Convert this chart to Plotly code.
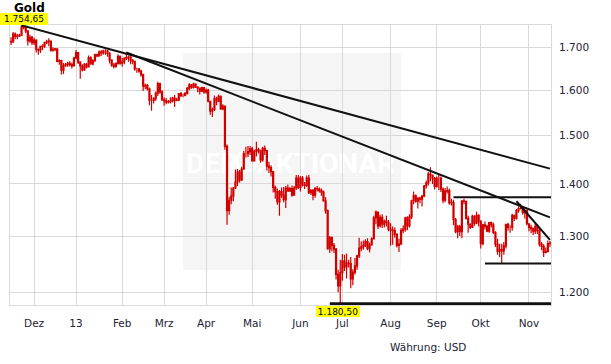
import numpy as np
import pandas as pd
import plotly.graph_objects as go

# ---------------- data ----------------
holidays = ["2012-12-25", "2013-01-01", "2013-03-29"]
dates = [d for d in pd.bdate_range("2012-11-16", "2013-11-15")
         if d.strftime("%Y-%m-%d") not in holidays]

open_prices = [
    # Nov 2012
    1715, 1714, 1733, 1727, 1728, 1730, 1751, 1749, 1741, 1716, 1725,
    # Dec
    1712, 1718, 1696, 1694, 1703, 1704, 1712, 1714, 1716, 1694, 1696, 1697, 1667, 1669, 1646, 1657, 1659, 1662, 1659, 1656,
    # Jan 2013
    1675, 1688, 1665, 1656, 1647, 1660, 1654, 1676, 1661, 1669, 1683, 1680, 1689, 1687, 1692, 1692, 1686, 1670, 1658, 1655, 1662, 1679,
    # Feb
    1663, 1666, 1674, 1676, 1677, 1670, 1667, 1649, 1649, 1644, 1636, 1609, 1611, 1603, 1577, 1577, 1581, 1593, 1615, 1596,
    # Mar
    1578, 1576, 1573, 1574, 1576, 1582, 1577, 1578, 1592, 1588, 1588, 1592, 1604, 1612, 1607, 1614, 1607, 1605, 1598, 1606,
    # Apr
    1596, 1600, 1575, 1553, 1557, 1581, 1575, 1586, 1558, 1564, 1477, 1348, 1368, 1376, 1392, 1404, 1424, 1408, 1430, 1462, 1462, 1466,
    # May
    1472, 1447, 1467, 1470, 1468, 1449, 1473, 1468, 1436, 1433, 1425, 1393, 1385, 1365, 1385, 1378, 1369, 1392, 1386, 1391, 1378, 1392, 1412,
    # Jun
    1393, 1412, 1398, 1397, 1412, 1383, 1387, 1378, 1391, 1390, 1387, 1384, 1367, 1348, 1277, 1297, 1283, 1276, 1231, 1211,
    # Jul
    1234, 1255, 1244, 1251, 1250, 1223, 1235, 1246, 1264, 1278, 1280, 1283, 1290, 1277, 1284, 1295, 1334, 1345, 1319, 1335, 1322, 1328, 1325,
    # Aug
    1313, 1311, 1310, 1303, 1283, 1285, 1310, 1313, 1334, 1319, 1336, 1367, 1377, 1366, 1372, 1370, 1376, 1396, 1402, 1420, 1418, 1411,
    # Sep
    1395, 1412, 1412, 1390, 1368, 1386, 1387, 1363, 1364, 1331, 1308, 1318, 1308, 1367, 1366, 1333, 1322, 1316, 1337, 1324, 1339,
    # Oct
    1327, 1286, 1321, 1318, 1309, 1325, 1321, 1307, 1285, 1272, 1275, 1273, 1282, 1322, 1316, 1316, 1339, 1333, 1348, 1352, 1353, 1344, 1348,
    # Nov
    1323, 1316, 1314, 1309, 1318, 1310, 1285, 1281, 1270, 1272, 1286,
]

high_prices = [
    1725, 1738, 1737, 1733, 1734, 1754.65, 1754, 1749, 1742, 1731, 1728,
    1724, 1720, 1698, 1704, 1708, 1714, 1719, 1723, 1717, 1701, 1699, 1698, 1672, 1671, 1663, 1663, 1666, 1667, 1664, 1678,
    1694, 1689, 1667, 1660, 1663, 1663, 1681, 1679, 1672, 1685, 1685, 1693, 1694, 1695, 1696, 1694, 1689, 1672, 1663, 1664, 1684, 1681,
    1675, 1677, 1688, 1681, 1684, 1672, 1668, 1652, 1651, 1647, 1638, 1615, 1614, 1606, 1589, 1584, 1597, 1619, 1617, 1600,
    1584, 1582, 1578, 1584, 1585, 1589, 1583, 1593, 1596, 1592, 1596, 1607, 1616, 1614, 1617, 1616, 1609, 1605, 1608, 1606,
    1604, 1603, 1576, 1561, 1588, 1585, 1590, 1588, 1568, 1565, 1481, 1375, 1393, 1394, 1429, 1430, 1428, 1435, 1468, 1476, 1478, 1478,
    1476, 1470, 1487, 1474, 1470, 1476, 1479, 1470, 1445, 1438, 1426, 1397, 1391, 1388, 1393, 1394, 1396, 1399, 1394, 1397, 1396, 1418, 1418,
    1416, 1416, 1404, 1417, 1418, 1390, 1390, 1394, 1396, 1393, 1391, 1387, 1374, 1350, 1300, 1299, 1287, 1278, 1239, 1257,
    1267, 1266, 1268, 1257, 1262, 1240, 1260, 1266, 1297, 1290, 1292, 1294, 1296, 1288, 1298, 1338, 1348, 1346, 1340, 1341, 1331, 1338, 1330,
    1324, 1318, 1316, 1305, 1295, 1315, 1320, 1336, 1337, 1341, 1369, 1385, 1379, 1374, 1375, 1378, 1398, 1407, 1424, 1434, 1419, 1414,
    1415, 1418, 1415, 1393, 1392, 1395, 1391, 1371, 1369, 1334, 1321, 1321, 1368, 1371, 1367, 1338, 1324, 1340, 1339, 1346, 1341,
    1330, 1323, 1327, 1321, 1326, 1327, 1325, 1309, 1295, 1286, 1286, 1289, 1323, 1325, 1320, 1342, 1340, 1351, 1356, 1361, 1353, 1355, 1350,
    1324, 1321, 1316, 1324, 1322, 1314, 1289, 1285, 1279, 1292, 1291,
]

low_prices = [
    1706, 1712, 1720, 1720, 1726, 1730, 1745, 1735, 1705, 1712, 1706,
    1706, 1688, 1683, 1687, 1694, 1699, 1708, 1703, 1690, 1690, 1691, 1665, 1659, 1636, 1637, 1654, 1654, 1655, 1650, 1655,
    1672, 1661, 1626, 1643, 1645, 1650, 1653, 1659, 1658, 1665, 1677, 1678, 1680, 1683, 1683, 1678, 1662, 1654, 1650, 1652, 1659, 1659,
    1654, 1660, 1670, 1666, 1660, 1660, 1645, 1640, 1640, 1631, 1598, 1602, 1599, 1566, 1554, 1570, 1576, 1587, 1592, 1576,
    1565, 1568, 1570, 1570, 1572, 1562, 1575, 1575, 1584, 1584, 1586, 1590, 1600, 1603, 1604, 1605, 1595, 1590, 1596, 1592,
    1592, 1572, 1545, 1540, 1553, 1566, 1573, 1556, 1555, 1470, 1321, 1340, 1360, 1366, 1390, 1396, 1403, 1406, 1429, 1454, 1455, 1459,
    1445, 1446, 1456, 1462, 1443, 1445, 1459, 1427, 1422, 1415, 1383, 1371, 1359, 1338, 1373, 1364, 1353, 1385, 1385, 1375, 1378, 1388, 1390,
    1385, 1395, 1390, 1394, 1380, 1378, 1368, 1373, 1385, 1383, 1377, 1365, 1342, 1275, 1269, 1272, 1269, 1222, 1200, 1180.5,
    1220, 1237, 1224, 1243, 1207, 1212, 1231, 1239, 1260, 1272, 1275, 1280, 1274, 1270, 1282, 1293, 1322, 1313, 1316, 1315, 1316, 1318, 1309,
    1282, 1284, 1297, 1279, 1271, 1284, 1305, 1308, 1311, 1316, 1332, 1360, 1363, 1352, 1362, 1356, 1374, 1391, 1397, 1405, 1400, 1389,
    1393, 1388, 1384, 1362, 1364, 1381, 1359, 1358, 1320, 1305, 1296, 1300, 1296, 1360, 1331, 1306, 1313, 1316, 1319, 1322, 1318,
    1277, 1283, 1312, 1307, 1306, 1316, 1304, 1280, 1266, 1262, 1251, 1266, 1277, 1310, 1306, 1310, 1328, 1331, 1344, 1350, 1340, 1333, 1320,
    1309, 1305, 1302, 1304, 1304, 1281, 1274, 1262, 1268, 1270, 1280,
]

close_prices = [
    1714, 1733, 1727, 1728, 1730, 1751, 1749, 1741, 1716, 1725, 1712,
    1718, 1696, 1694, 1703, 1704, 1712, 1714, 1716, 1694, 1696, 1697, 1667, 1669, 1646, 1657, 1659, 1662, 1659, 1656, 1675,
    1688, 1665, 1656, 1647, 1660, 1654, 1676, 1661, 1669, 1683, 1680, 1689, 1687, 1692, 1692, 1686, 1670, 1658, 1655, 1662, 1679, 1663,
    1666, 1674, 1676, 1677, 1670, 1667, 1649, 1649, 1644, 1636, 1609, 1611, 1603, 1577, 1577, 1581, 1593, 1615, 1596, 1578,
    1576, 1573, 1574, 1576, 1582, 1577, 1578, 1592, 1588, 1588, 1592, 1604, 1612, 1607, 1614, 1607, 1605, 1598, 1606, 1596,
    1600, 1575, 1553, 1557, 1581, 1575, 1586, 1558, 1564, 1477, 1348, 1368, 1376, 1392, 1404, 1424, 1408, 1430, 1462, 1462, 1466, 1472,
    1447, 1467, 1470, 1468, 1449, 1473, 1468, 1436, 1433, 1425, 1393, 1385, 1365, 1385, 1378, 1369, 1392, 1386, 1391, 1378, 1392, 1412, 1393,
    1412, 1398, 1397, 1412, 1383, 1387, 1378, 1391, 1390, 1387, 1384, 1367, 1348, 1277, 1297, 1283, 1276, 1231, 1211, 1234,
    1255, 1244, 1251, 1250, 1223, 1235, 1246, 1264, 1278, 1280, 1283, 1290, 1277, 1284, 1295, 1334, 1345, 1319, 1335, 1322, 1328, 1325, 1313,
    1311, 1310, 1303, 1283, 1285, 1310, 1313, 1334, 1319, 1336, 1367, 1377, 1366, 1372, 1370, 1376, 1396, 1402, 1420, 1418, 1411, 1395,
    1412, 1412, 1390, 1368, 1386, 1387, 1363, 1364, 1331, 1308, 1318, 1308, 1367, 1366, 1333, 1322, 1316, 1337, 1324, 1339, 1327,
    1286, 1321, 1318, 1309, 1325, 1321, 1307, 1285, 1272, 1275, 1273, 1282, 1322, 1316, 1316, 1339, 1333, 1348, 1352, 1353, 1344, 1348, 1323,
    1316, 1314, 1309, 1318, 1310, 1285, 1281, 1270, 1272, 1286, 1287,
]

month_keys = ["2012-12", "2013-01", "2013-02", "2013-03", "2013-04", "2013-05",
              "2013-06", "2013-07", "2013-08", "2013-09", "2013-10", "2013-11"]
month_labels = ["Dez", "13", "Feb", "Mrz", "Apr", "Mai", "Jun", "Jul", "Aug", "Sep", "Okt", "Nov"]

price_ticks = [1200, 1300, 1400, 1500, 1600, 1700]
price_tick_labels = ["1.200", "1.300", "1.400", "1.500", "1.600", "1.700"]
price_range = [1178.5, 1755.5]

trend_start_dates = ["2012-11-23", "2013-02-05", "2013-10-24"]
trend_start_prices = [1754.65, 1688, 1366]
trend_end_date = "2013-11-15"
trend_end_prices = [1431, 1335, 1293]

level_prices = [1374, 1250, 1180.5]
level_start_dates = ["2013-09-12", "2013-10-03", "2013-06-21"]

max_label = "1.754,65"
min_label = "1.180,50"
currency_label = "Währung: USD"
title_text = "Gold"
watermark_words = ["DER", "AKTIONÄR"]

# ---------------- build ----------------
n = len(dates)
assert len(open_prices) == n and len(high_prices) == n and len(low_prices) == n and len(close_prices) == n, \
    (n, len(open_prices), len(high_prices), len(low_prices), len(close_prices))

x = list(range(n))
day_index = {d.strftime("%Y-%m-%d"): i for i, d in enumerate(dates)}
month_of = [d.strftime("%Y-%m") for d in dates]
tick_x = [month_of.index(m) for m in month_keys]

RED = "#d00000"
GRID = "#d9d9d9"
W, H = 611, 364
L, R, T, B = 10, 60, 25, 59
PW, PH = W - L - R, H - T - B


def px(xp):
    return (xp - L) / PW


def py(yp):
    return (H - B - yp) / PH


fig = go.Figure()

fig.add_trace(go.Candlestick(
    x=x, open=open_prices, high=high_prices, low=low_prices, close=close_prices,
    increasing=dict(line=dict(color=RED, width=1.2), fillcolor="#ffffff"),
    decreasing=dict(line=dict(color=RED, width=1.2), fillcolor=RED),
    whiskerwidth=0, showlegend=False, hoverinfo="skip",
))

for sd, sp, ep in zip(trend_start_dates, trend_start_prices, trend_end_prices):
    fig.add_trace(go.Scatter(
        x=[day_index[sd], day_index[trend_end_date]], y=[sp, ep],
        mode="lines", line=dict(color="#111111", width=2),
        showlegend=False, hoverinfo="skip",
    ))

for k, (lp, sd) in enumerate(zip(level_prices, level_start_dates)):
    fig.add_trace(go.Scatter(
        x=[day_index[sd], n - 0.5], y=[lp, lp],
        mode="lines", line=dict(color="#111111", width=3 if k == 2 else 2),
        showlegend=False, hoverinfo="skip",
    ))

shapes = [
    dict(type="rect", xref="paper", yref="paper", x0=px(183), x1=px(401), y0=py(270), y1=py(53),
         fillcolor="#f5f5f5", line=dict(width=0), layer="below"),
    dict(type="circle", xref="paper", yref="paper", x0=px(237), x1=px(257), y0=py(171), y1=py(151),
         fillcolor="rgba(0,0,0,0)", line=dict(color="#ffffff", width=3), layer="below"),
    dict(type="rect", xref="paper", yref="paper", x0=px(188), x1=px(236), y0=py(180), y1=py(142),
         fillcolor="rgba(0,0,0,0)", line=dict(width=0), layer="below",
         label=dict(text=watermark_words[0], textposition="middle center",
                    font=dict(family="Roboto", size=28, color="#ffffff", weight="bold"))),
    dict(type="rect", xref="paper", yref="paper", x0=px(258), x1=px(394), y0=py(180), y1=py(142),
         fillcolor="rgba(0,0,0,0)", line=dict(width=0), layer="below",
         label=dict(text=watermark_words[1], textposition="middle center",
                    font=dict(family="Roboto", size=28, color="#ffffff", weight="bold"))),
]

min_idx = int(np.argmin(low_prices))

annotations = [
    dict(text="<b>" + title_text + "</b>", xref="paper", yref="paper", x=px(12), y=py(-1),
         xanchor="left", yanchor="top", showarrow=False,
         font=dict(family="DejaVu Sans", size=12, color="#000000")),
    dict(text=max_label, xref="paper", yref="paper", x=px(0), y=py(13),
         xanchor="left", yanchor="top", showarrow=False, width=48, height=12,
         bgcolor="#ffff00", borderpad=0, borderwidth=0,
         font=dict(family="DejaVu Sans", size=9, color="#000000")),
    dict(text=min_label, xref="x", yref="paper", x=min_idx, y=py(306), xshift=-2,
         xanchor="center", yanchor="top", showarrow=False, width=44, height=11,
         bgcolor="#ffff00", borderpad=0, borderwidth=0,
         font=dict(family="DejaVu Sans", size=9, color="#000000")),
    dict(text=currency_label, xref="paper", yref="paper", x=px(468), y=py(347),
         xanchor="right", yanchor="middle", showarrow=False,
         font=dict(family="DejaVu Sans", size=10.5, color="#222233")),
]

fig.update_layout(
    width=W, height=H, margin=dict(l=L, r=R, t=T, b=B, autoexpand=False),
    paper_bgcolor="#ffffff", plot_bgcolor="#ffffff", showlegend=False,
    font=dict(family="DejaVu Sans", size=10.5, color="#222233"),
    shapes=shapes, annotations=annotations,
    xaxis=dict(range=[-0.5, n - 0.5], tickmode="array", tickvals=tick_x, ticktext=month_labels,
               showgrid=True, gridcolor=GRID, gridwidth=1, zeroline=False,
               showline=True, mirror=True, linecolor=GRID, linewidth=1,
               ticks="outside", ticklen=8, tickcolor="rgba(0,0,0,0)",
               rangeslider=dict(visible=False)),
    yaxis=dict(type="log", range=[np.log10(price_range[0]), np.log10(price_range[1])],
               side="right", tickmode="array", tickvals=price_ticks, ticktext=price_tick_labels,
               showgrid=True, gridcolor=GRID, gridwidth=1, zeroline=False,
               showline=True, mirror=True, linecolor=GRID, linewidth=1,
               ticks="outside", ticklen=5, tickcolor="rgba(0,0,0,0)"),
)

fig.write_html("out.html", config={"displayModeBar": False},
               post_script="document.body.style.margin='0';document.body.style.padding='0';")
